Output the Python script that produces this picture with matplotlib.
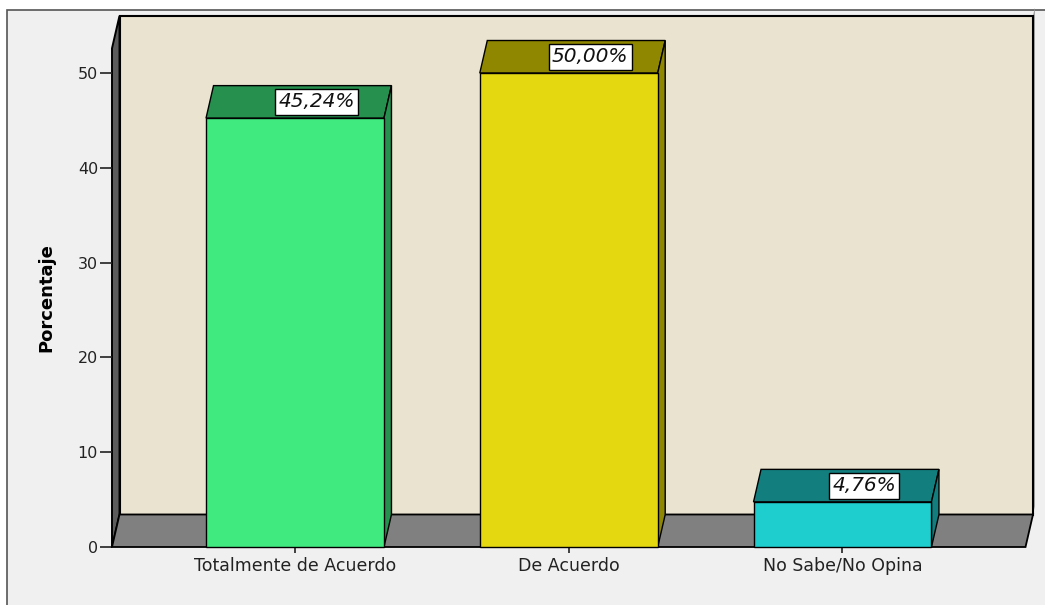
import numpy as np
import matplotlib
matplotlib.use('Agg')
import matplotlib.pyplot as plt
from matplotlib.patches import Polygon, Rectangle
from matplotlib.transforms import IdentityTransform, offset_copy
from matplotlib import font_manager

# Datos del grafico
categorias = ['Totalmente de Acuerdo', 'De Acuerdo', 'No Sabe/No Opina']
porcentajes = [45.24, 50.00, 4.76]
etiquetas = ['45,24%', '50,00%', '4,76%']
y_ticks = [0, 10, 20, 30, 40, 50]

# Estilo
colores_frente = ['#41EA7F', '#E4D811', '#1ECECE']
colores_tapa = ['#26914F', '#8F8700', '#137E7E']
color_pared = '#EAE3CF'
color_suelo = '#808080'
color_lateral = '#5C5C5C'

DX, DY = 7.5, 32.5  # profundidad del efecto 3D en pixeles
ANCHO = 0.65
XMIN, XMAX = -0.6685, 2.6685
YMAX = 52.6

# fuente estrecha para el titulo del eje, si existe
nombres = {f.name for f in font_manager.fontManager.ttflist}
estrecha = 'Liberation Sans Narrow' in nombres

fig = plt.figure(figsize=(10.45, 6.05), dpi=100)
fig.patch.set_facecolor('white')

# Marco exterior gris
fig.add_artist(Rectangle((7 / 1045, -0.02), 1.1, (605 - 10) / 605 + 0.02,
                         transform=fig.transFigure, facecolor='#F0F0F0',
                         edgecolor='#555555', lw=1.2, zorder=0))

ax = fig.add_axes([112 / 1045, 58 / 605, 913.5 / 1045, YMAX * 9.48 / 605])
ax.set_xlim(XMIN, XMAX)
ax.set_ylim(0, YMAX)
ax.patch.set_visible(False)
for s in ax.spines.values():
    s.set_visible(False)


def poligono(puntos, prof, **kw):
    """Puntos en datos -> display, desplazando los de atras por la profundidad."""
    pts = ax.transData.transform(np.array(puntos, dtype=float))
    pts[:, 0] += np.array(prof) * DX
    pts[:, 1] += np.array(prof) * DY
    p = Polygon(pts, closed=True, transform=IdentityTransform(), clip_on=False, **kw)
    ax.add_patch(p)
    return p


# Pared del fondo (con sombra a la derecha)
poligono([(XMAX, 0), (XMAX, YMAX), (XMAX, YMAX), (XMAX, 0)], [1, 1, 1.25, 1.25],
         facecolor='#9A9A9A', edgecolor='none', zorder=0.9)
poligono([(XMIN, 0), (XMAX, 0), (XMAX, YMAX), (XMIN, YMAX)], [1, 1, 1, 1],
         facecolor=color_pared, edgecolor='black', lw=1.5, zorder=1)
# Pared lateral izquierda
poligono([(XMIN, 0), (XMIN, YMAX), (XMIN, YMAX), (XMIN, 0)], [0, 0, 1, 1],
         facecolor=color_lateral, edgecolor='black', lw=1.4, zorder=1.5)
# Suelo
poligono([(XMIN, 0), (XMAX, 0), (XMAX, 0), (XMIN, 0)], [0, 0, 1, 1],
         facecolor=color_suelo, edgecolor='black', lw=1.3, zorder=2)

x = np.arange(len(categorias))
barras = ax.bar(x, porcentajes, width=ANCHO, color=colores_frente,
                edgecolor='black', linewidth=1.0, zorder=4, clip_on=False)

for xi, v, c_tapa in zip(x, porcentajes, colores_tapa):
    izq, der = xi - ANCHO / 2, xi + ANCHO / 2
    # tapa superior
    poligono([(izq, v), (der, v), (der, v), (izq, v)], [0, 0, 1, 1],
             facecolor=c_tapa, edgecolor='black', lw=1.0, zorder=3)
    # lado derecho
    poligono([(der, 0), (der, v), (der, v), (der, 0)], [0, 0, 1, 1],
             facecolor=c_tapa, edgecolor='black', lw=1.0, zorder=3)

# Etiquetas de valor en la tapa
trans_tapa = offset_copy(ax.transData, fig=fig, x=DX / 2, y=DY / 2, units='dots')
for xi, v, txt in zip(x, porcentajes, etiquetas):
    ax.text(xi + 0.065, v, txt, transform=trans_tapa, ha='center', va='center',
            fontsize=14.5, fontstyle='italic', family='DejaVu Sans', color='#111111',
            zorder=6, clip_on=False,
            bbox=dict(boxstyle='square,pad=0.17', facecolor='white',
                      edgecolor='black', lw=1.0))

# Ejes
ax.set_xticks(x)
ax.set_xticklabels(categorias, fontsize=12.5, family='DejaVu Sans', color='#222222')
ax.set_yticks(y_ticks)
ax.set_yticklabels([str(t) for t in y_ticks], fontsize=11.5, family='DejaVu Sans',
                   color='#222222')
ax.tick_params(axis='x', length=4.5, width=1.2, pad=2.5, color='#222222')
ax.tick_params(axis='y', length=8.5, width=1.2, pad=1.5, color='#222222')

if estrecha:
    ax.set_ylabel('Porcentaje', fontsize=18, fontweight='bold',
                  family='Liberation Sans Narrow', color='black')
else:
    ax.set_ylabel('Porcentaje', fontsize=13, fontweight='bold',
                  family='DejaVu Sans', color='black')
ax.yaxis.set_label_coords(-0.062, 0.5)

fig.savefig('out.png', dpi=100, facecolor=fig.get_facecolor())
